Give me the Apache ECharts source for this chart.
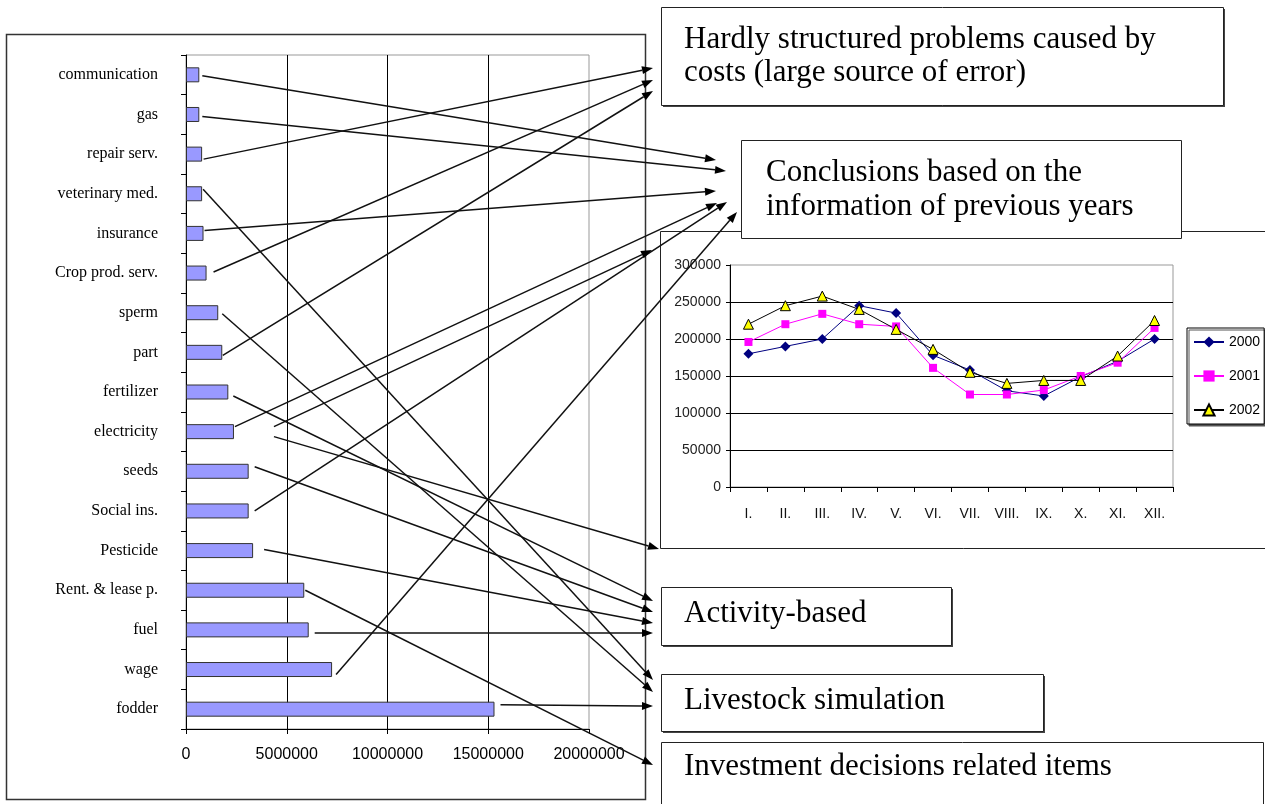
<!DOCTYPE html>
<html>
<head>
<meta charset="utf-8">
<script src="https://cdn.jsdelivr.net/npm/echarts@6/dist/echarts.min.js"></script>
<style>
html,body{margin:0;padding:0;background:#fff;}
#chart{width:1265px;height:804px;}
</style>
</head>
<body>
<div id="chart"></div>
<script>
// ---------- data ----------
const costCategories = ['communication','gas','repair serv.','veterinary med.','insurance','Crop prod. serv.','sperm','part','fertilizer','electricity','seeds','Social ins.','Pesticide','Rent. & lease p.','fuel','wage','fodder'];
const costValues = [660000, 660000, 800000, 800000, 870000, 1020000, 1600000, 1800000, 2100000, 2380000, 3110000, 3110000, 3330000, 5870000, 6090000, 7250000, 15310000];
const costAxisMax = 20000000;
const costAxisStep = 5000000;

const months = ['I.','II.','III.','IV.','V.','VI.','VII.','VIII.','IX.','X.','XI.','XII.'];
const years = ['2000','2001','2002'];
const values2000 = [180000, 190000, 200000, 245000, 235000, 178000, 158000, 130000, 123000, 149000, 170000, 200000];
const values2001 = [196000, 220000, 234000, 220000, 217000, 161000, 125000, 125000, 131000, 150000, 168000, 215000];
const values2002 = [220000, 245000, 258000, 240000, 213000, 186000, 155000, 140000, 144000, 144000, 177000, 225000];
const monthAxisMax = 300000;
const monthAxisStep = 50000;

const boxTexts = {
  hardly: ['Hardly structured problems caused by', 'costs (large source of error)'],
  conclusions: ['Conclusions based on the', 'information of previous years'],
  activity: ['Activity-based'],
  livestock: ['Livestock simulation'],
  investment: ['Investment decisions related items']
};

// ---------- layout (annotation geometry, pixels) ----------
const SERIF = "'Liberation Serif','Times New Roman',serif";
const SANS = "'Liberation Sans',Arial,sans-serif";

const boxes = [
  {key:'hardly', x:661, y:7, w:562, h:98, shadow:true, tx:684, ty:[40,73]},
  {key:'conclusions', x:741, y:140, w:440, h:98, shadow:false, tx:766, ty:[173,207]},
  {key:'activity', x:661, y:587, w:290, h:58, shadow:true, tx:684, ty:[614]},
  {key:'livestock', x:661, y:674, w:382, h:57, shadow:true, tx:684, ty:[701]},
  {key:'investment', x:661, y:742, w:602, h:80, shadow:false, tx:684, ty:[767]}
];

// [source category, start offset x from bar end, start offset y from bar centre, tip x, tip y]
const arrowLinks = [
  ['communication', 3, 1, 716, 160],
  ['gas', 3, 2, 726, 171],
  ['repair serv.', 1.5, 5, 653, 68],
  ['veterinary med.', 1, -4.5, 653, 680],
  ['insurance', 1, -3, 716, 191],
  ['Crop prod. serv.', 7, -1, 653, 80],
  ['sperm', 4, 1, 653, 692],
  ['part', 0.5, 3, 653, 91],
  ['fertilizer', 5, 4, 653, 601],
  ['electricity', 1, -5, 717, 203],
  ['electricity', 40, -5, 652, 250],
  ['electricity', 40, 5, 659, 549],
  ['seeds', 6, -4.5, 653, 612],
  ['Social ins.', 6, 0, 727, 202],
  ['Pesticide', 11, -1, 653, 623],
  ['Rent. & lease p.', 1, 0, 653, 765],
  ['fuel', 6, 3, 653, 633],
  ['wage', 4, 5, 737, 212],
  ['fodder', 6, -4.5, 653, 706]
];

// ---------- chart ----------
const chart = echarts.init(document.getElementById('chart'), null, {renderer:'canvas'});

const option = {
  animation: false,
  backgroundColor: '#fff',
  grid: [
    {left:186, top:55, width:403, height:674, show:true, borderColor:'#999', borderWidth:1, backgroundColor:'transparent'},
    {left:730, top:265, width:443, height:222, show:true, borderColor:'#999', borderWidth:1, backgroundColor:'transparent'}
  ],
  xAxis: [
    {
      gridIndex:0, type:'value', min:0, max:costAxisMax, interval:costAxisStep,
      axisLine:{show:true, lineStyle:{color:'#000', width:1}},
      axisTick:{show:true, length:5, lineStyle:{color:'#000'}},
      axisLabel:{fontFamily:SANS, fontSize:16, color:'#000', margin:18, formatter: v => String(v)},
      splitLine:{show:true, showMaxLine:false, lineStyle:{color:'#000', width:1}}
    },
    {
      gridIndex:1, type:'category', data:months, boundaryGap:true,
      axisLine:{show:true, lineStyle:{color:'#000', width:1}},
      axisTick:{show:true, length:5, lineStyle:{color:'#000'}},
      axisLabel:{fontFamily:SANS, fontSize:14, color:'#111', margin:20, interval:0},
      splitLine:{show:false}
    }
  ],
  yAxis: [
    {
      gridIndex:0, type:'category', data:costCategories, inverse:true,
      axisLine:{show:true, lineStyle:{color:'#000', width:1}},
      axisTick:{show:true, length:5, lineStyle:{color:'#000'}},
      axisLabel:{fontFamily:SERIF, fontSize:16, color:'#000', margin:28},
      splitLine:{show:false}
    },
    {
      gridIndex:1, type:'value', min:0, max:monthAxisMax, interval:monthAxisStep,
      axisLine:{show:true, lineStyle:{color:'#000', width:1}},
      axisTick:{show:true, length:4, lineStyle:{color:'#000'}},
      axisLabel:{fontFamily:SANS, fontSize:14, color:'#222', margin:9, formatter: v => String(v)},
      splitLine:{show:true, showMaxLine:false, lineStyle:{color:'#000', width:1}}
    }
  ],
  legend: {
    data: years,
    orient:'vertical', left:1187, top:328,
    itemWidth:30, itemHeight:14, itemGap:20,
    padding:[7,4,7,6],
    backgroundColor:'#fff', borderColor:'#000', borderWidth:1,
    shadowColor:'#555', shadowOffsetX:2, shadowOffsetY:2, shadowBlur:0,
    textStyle:{fontFamily:SANS, fontSize:14, color:'#000'}
  },
  series: [
    {
      type:'bar', name:'costs', xAxisIndex:0, yAxisIndex:0, data:costValues,
      barWidth:15,
      itemStyle:{color:'#9999FF', borderColor:'#333', borderWidth:1}
    },
    {
      type:'line', name:years[0], xAxisIndex:1, yAxisIndex:1, data:values2000,
      symbol:'diamond', symbolSize:10, showAllSymbol:true,
      lineStyle:{color:'#000080', width:1},
      itemStyle:{color:'#000080'}
    },
    {
      type:'line', name:years[1], xAxisIndex:1, yAxisIndex:1, data:values2001,
      symbol:'rect', symbolSize:8, showAllSymbol:true,
      lineStyle:{color:'#FF00FF', width:1},
      itemStyle:{color:'#FF00FF'}
    },
    {
      type:'line', name:years[2], xAxisIndex:1, yAxisIndex:1, data:values2002,
      symbol:'triangle', symbolSize:10, showAllSymbol:true,
      lineStyle:{color:'#000', width:1},
      itemStyle:{color:'#FFFF00', borderColor:'#000', borderWidth:1}
    }
  ]
};

chart.setOption(option);

// ---------- annotations ----------
const elements = [];

// left frame around bar chart
elements.push({type:'rect', z:1, silent:true, shape:{x:6.5, y:34.5, width:639, height:765},
  style:{fill:null, stroke:'#333', lineWidth:1.5}});
// frame around line chart (open to the right)
elements.push({type:'rect', z:1, silent:true, shape:{x:660.5, y:231.5, width:640, height:317},
  style:{fill:null, stroke:'#222', lineWidth:1}});

// text boxes
boxes.forEach(b => {
  if (b.shadow) {
    elements.push({type:'rect', z:40, silent:true, shape:{x:b.x+2, y:b.y+2, width:b.w, height:b.h},
      style:{fill:'#444'}});
  }
  elements.push({type:'rect', z:41, silent:true, shape:{x:b.x+0.5, y:b.y+0.5, width:b.w, height:b.h},
    style:{fill:'#fff', stroke:'#222', lineWidth:1}});
  boxTexts[b.key].forEach((t, i) => {
    elements.push({type:'text', z:42, silent:true, x:b.tx, y:b.ty[i],
      style:{text:t, fontFamily:SERIF, fontSize:31, fill:'#000', align:'left', verticalAlign:'middle'}});
  });
});

// arrows from bars (start points from the bar chart's own scales)
arrowLinks.forEach(a => {
  const idx = costCategories.indexOf(a[0]);
  const p = chart.convertToPixel({xAxisIndex:0, yAxisIndex:0}, [costValues[idx], idx]);
  const sx = p[0] + a[1], sy = p[1] + a[2];
  const tx = a[3], ty = a[4];
  const dx = tx - sx, dy = ty - sy;
  const len = Math.sqrt(dx*dx + dy*dy);
  const ux = dx/len, uy = dy/len;
  const L = 11, W = 4;
  const bx = tx - ux*L, by = ty - uy*L;
  elements.push({type:'line', z:60, silent:true, shape:{x1:sx, y1:sy, x2:bx, y2:by},
    style:{stroke:'#111', lineWidth:1.5}});
  elements.push({type:'polygon', z:61, silent:true,
    shape:{points:[[tx,ty],[bx - uy*W, by + ux*W],[bx + uy*W, by - ux*W]]},
    style:{fill:'#000'}});
});

chart.setOption({graphic:{elements:elements}});
</script>
</body>
</html>
